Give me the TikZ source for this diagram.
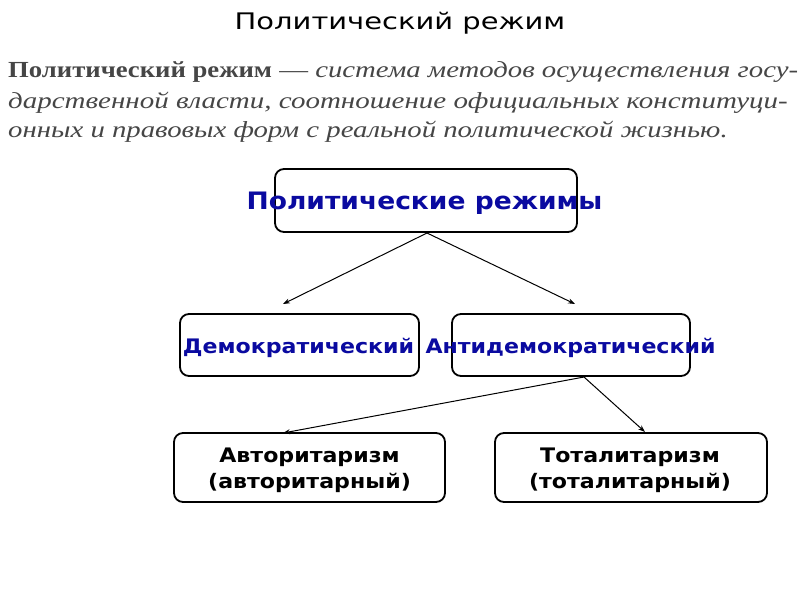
\documentclass[tikz,border=0pt]{standalone}
\usepackage{fontspec}
\setmainfont{DejaVu Sans}
\newfontfamily\deffont{Liberation Serif}
\usetikzlibrary{arrows.meta}
\definecolor{boxblue}{RGB}{10,10,160}
\definecolor{defgray}{RGB}{70,70,70}
\tikzset{
  box/.style={draw=black, line width=1.8pt, rounded corners=9pt, fill=none},
  lbl/.style={font=\bfseries\fontsize{20}{26.5}\selectfont, inner sep=0pt},
  conn/.style={line width=1pt, -{Stealth[length=7pt,width=5pt]}},
  defline/.style={anchor=base west, inner sep=0pt, text=defgray, font=\deffont\fontsize{23}{29}\selectfont}
}
\newcommand{\xs}[2]{\scalebox{#1}[1]{#2}}
\begin{document}
\begin{tikzpicture}[x=1pt,y=-1pt]
\useasboundingbox (0,0) rectangle (800,600);
\fill[white] (0,0) rectangle (800,600);
\node[inner sep=0pt, anchor=base, font=\fontsize{22.8}{26}\selectfont] (title) at (400,29.3) {\xs{1.27}{Политический режим}};
\node[defline] (d1) at (8,77) {\xs{1.16}{\textbf{Политический режим}}\xs{1.25}{ — \textit{система методов осуществления госу-}}};
\node[defline] (d2) at (8,108) {\xs{1.26}{\textit{дарственной власти, соотношение официальных конституци-}}};
\node[defline] (d3) at (8,137) {\xs{1.25}{\textit{онных и правовых форм с реальной политической жизнью.}}};
% boxes
\draw[box] (275,169) rectangle (577,232);
\coordinate (topb) at (427,233);
\node[lbl, anchor=base, text=boxblue, font=\bfseries\fontsize{24}{28}\selectfont] (top) at (424.5,209) {\xs{1.105}{Политические режимы}};
\draw[box] (180,314) rectangle (419,376);
\node[lbl, anchor=base, text=boxblue] (dem) at (298.5,353) {\xs{1.105}{Демократический}};
\draw[box] (452,314) rectangle (690,376);
\node[lbl, anchor=base, text=boxblue] (anti) at (570.5,353) {\xs{1.105}{Антидемократический}};
\coordinate (antib) at (584,377);
\draw[box] (174,433) rectangle (445,502);
\node[lbl, align=center] (auth) at (309.5,470.5) {\xs{1.105}{Авторитаризм}\\\xs{1.105}{(авторитарный)}};
\draw[box] (495,433) rectangle (767,502);
\node[lbl, align=center] (tot) at (630,470.5) {\xs{1.105}{Тоталитаризм}\\\xs{1.105}{(тоталитарный)}};
\coordinate (e1) at (283,304);
\coordinate (e2) at (575,304);
\coordinate (e3) at (283,433);
\coordinate (e4) at (645,432);
\draw[conn] (topb) -- (e1);
\draw[conn] (topb) -- (e2);
\draw[conn] (antib) -- (e3);
\draw[conn] (antib) -- (e4);
\end{tikzpicture}
\end{document}
